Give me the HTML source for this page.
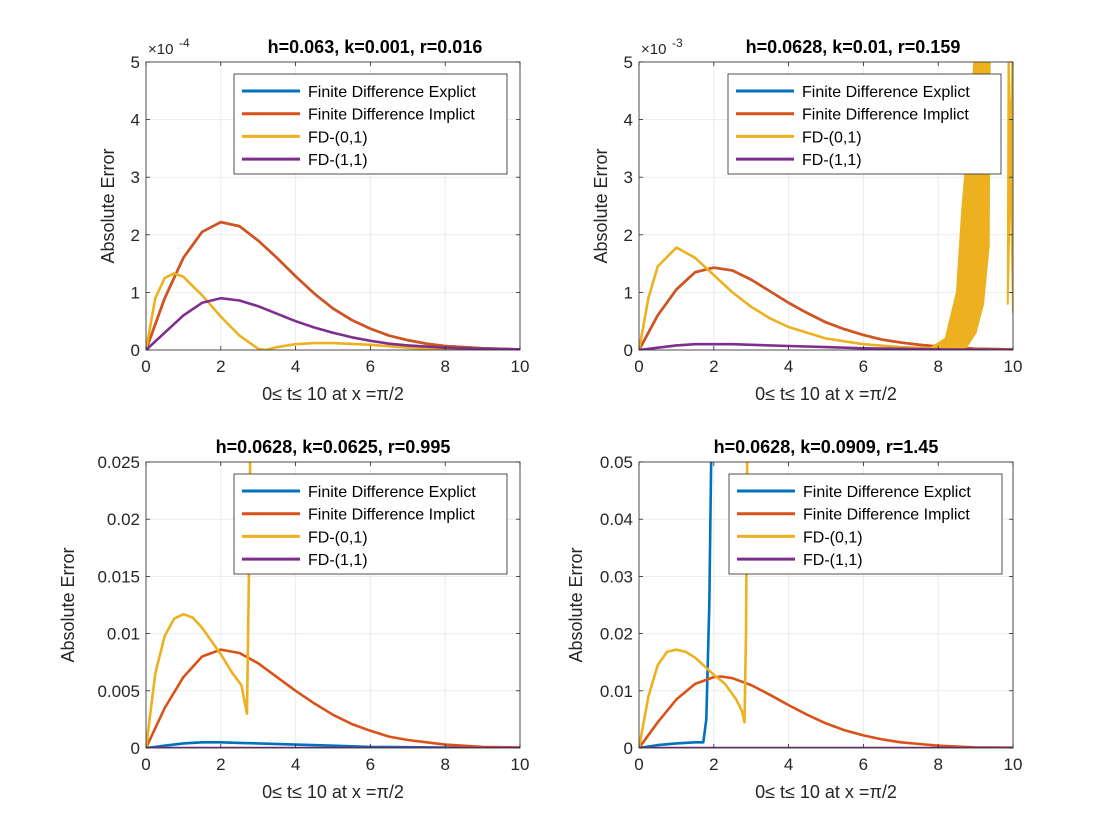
<!DOCTYPE html>
<html><head><meta charset="utf-8"><style>
body{margin:0;background:#fff}
svg{display:block;font-family:"Liberation Sans",Arial,sans-serif}
</style></head><body>
<svg id="fig" width="1120" height="840" viewBox="0 0 1120 840" xmlns="http://www.w3.org/2000/svg"></svg>
<script>
// ---------- data ----------
const xTicks=[0,2,4,6,8,10];
// Panel 1 (units 1e-4)
const p1T=[0,0.5,1,1.5,2,2.5,3,3.5,4,4.5,5,5.5,6,6.5,7,7.5,8,9,10];
const p1Impl=[0,0.9,1.6,2.05,2.22,2.15,1.9,1.6,1.28,0.98,0.72,0.52,0.37,0.25,0.17,0.11,0.07,0.03,0.01];
const p1Expl=[0,0.9,1.6,2.05,2.22,2.15,1.9,1.6,1.28,0.98,0.72,0.52,0.37,0.25,0.17,0.11,0.07,0.03,0.01];
const p1T11=[0,0.5,1,1.5,2,2.5,3,3.5,4,4.5,5,5.5,6,6.5,7,8,9,10];
const p1FD11=[0,0.3,0.6,0.82,0.9,0.86,0.76,0.63,0.5,0.39,0.3,0.22,0.16,0.11,0.08,0.04,0.02,0.01];
const p1T01=[0,0.25,0.5,0.75,1,1.5,2,2.5,3,3.2,3.5,4,4.5,5,6,7,8,10];
const p1FD01=[0,0.9,1.25,1.33,1.27,0.95,0.58,0.25,0.02,0,0.05,0.1,0.12,0.12,0.09,0.04,0.01,0];
const p1YTicks=[0,1,2,3,4,5];
// Panel 2 (units 1e-3)
const p2T=[0,0.5,1,1.5,2,2.5,3,3.5,4,4.5,5,5.5,6,6.5,7,7.5,8,9,10];
const p2Impl=[0,0.6,1.05,1.35,1.43,1.38,1.22,1.02,0.82,0.64,0.48,0.36,0.26,0.18,0.13,0.09,0.06,0.02,0.01];
const p2Expl=[0,0.6,1.05,1.35,1.43,1.38,1.22,1.02,0.82,0.64,0.48,0.36,0.26,0.18,0.13,0.09,0.06,0.02,0.01];
const p2T01=[0,0.25,0.5,1,1.5,2,2.5,3,3.5,4,5,6,7,7.8];
const p2FD01=[0,0.9,1.45,1.78,1.6,1.3,1.0,0.75,0.55,0.4,0.2,0.1,0.05,0.03];
const p2BandHiT=[7.8,8.2,8.5,8.65,8.85,9.0];
const p2BandHi=[0.03,0.2,1.0,2.5,4,5.3];
const p2BandLoT=[7.9,8.75,9.0,9.2,9.35,9.38];
const p2BandLo=[0.02,0.05,0.3,0.8,1.8,5.3];
const p2Tail2HiT=[9.86,9.88];
const p2Tail2Hi=[0.8,5.3];
const p2Tail2LoT=[9.99,10];
const p2Tail2Lo=[5.3,0.65];
const p2T11=[0,0.5,1,1.5,2,2.5,3,4,5,6,7,8,10];
const p2FD11=[0,0.04,0.08,0.1,0.1,0.1,0.09,0.07,0.05,0.03,0.02,0.01,0];
const p2YTicks=[0,1,2,3,4,5];
// Panel 3
const p3T=[0,0.5,1,1.5,2,2.5,3,3.5,4,4.5,5,5.5,6,6.5,7,7.5,8,9,10];
const p3Impl=[0,0.0035,0.0062,0.0080,0.0086,0.0083,0.0074,0.0062,0.0050,0.0039,0.0029,0.0021,0.0015,0.0010,0.0007,0.0005,0.0003,0.0001,0.00005];
const p3T01=[0,0.25,0.5,0.75,1,1.25,1.5,2,2.3,2.55,2.7,2.75,2.8];
const p3FD01=[0,0.0065,0.0098,0.0113,0.0117,0.0114,0.0105,0.0082,0.0066,0.0055,0.003,0.015,0.03];
const p3TExpl=[0,0.5,1,1.5,2,2.5,3,4,5,6,7,8,10];
const p3Expl=[0,0.0002,0.0004,0.0005,0.0005,0.00045,0.0004,0.0003,0.0002,0.0001,0.00007,0.00004,0.00001];
const p3T11=[0,10];
const p3FD11=[0,0];
const p3YTicks=[0,0.005,0.01,0.015,0.02,0.025];
const p3YLabels=["0","0.005","0.01","0.015","0.02","0.025"];
// Panel 4
const p4T=[0,0.5,1,1.5,2,2.2,2.5,3,3.5,4,4.5,5,5.5,6,6.5,7,7.5,8,9,10];
const p4Impl=[0,0.0045,0.0085,0.0112,0.0124,0.0125,0.0122,0.0110,0.0093,0.0075,0.0058,0.0043,0.0031,0.0022,0.0015,0.0010,0.0007,0.0004,0.0001,0.00005];
const p4T01=[0,0.25,0.5,0.75,1,1.25,1.5,2,2.3,2.6,2.75,2.82,2.86,2.9];
const p4FD01=[0,0.009,0.0145,0.0168,0.0172,0.0168,0.0158,0.0128,0.0112,0.0085,0.0065,0.0045,0.02,0.06];
const p4TExpl=[0,0.5,1,1.5,1.72,1.8,1.88,1.95];
const p4Expl=[0,0.0005,0.0008,0.001,0.001,0.005,0.025,0.06];
const p4T11=[0,10];
const p4FD11=[0,0];
const p4YTicks=[0,0.01,0.02,0.03,0.04,0.05];
const p4YLabels=["0","0.01","0.02","0.03","0.04","0.05"];

// ---------- drawing ----------
const NS="http://www.w3.org/2000/svg";
const svg=document.getElementById('fig');
const C={blue:"#0072BD",orange:"#D95319",yellow:"#EDB120",purple:"#7E2F8E"};
function mk(tag,attrs,parent){const e=document.createElementNS(NS,tag);for(const k in attrs)e.setAttribute(k,attrs[k]);(parent||svg).appendChild(e);return e;}
let clipN=0;
function panel(o){
  const g=mk('g',{});
  
  
  const L=o.x0,R=o.x1,T=o.y0,B=o.y1;
  const sx=t=>L+(t-0)/10*(R-L);
  const sy=v=>B-(v/o.ymax)*(B-T);
  mk('rect',{x:L,y:T,width:R-L,height:B-T,fill:'#fff'},g);
  xTicks.forEach(t=>{const l=mk('line',{x1:sx(t),x2:sx(t),y1:T,y2:B,stroke:'#ebebeb','stroke-width':1},g);
    });
  o.yTicks.forEach(v=>{const l=mk('line',{x1:L,x2:R,y1:sy(v),y2:sy(v),stroke:'#ebebeb','stroke-width':1},g);
    });
  const cid='clip'+(clipN++);
  const cp=mk('clipPath',{id:cid},g);mk('rect',{x:L,y:T,width:R-L,height:B-T},cp);
  const dg=mk('g',{'clip-path':'url(#'+cid+')'},g);
  
  o.series.forEach(s=>{
    if(s.band){
      const pts=s.hiT.map((t,i)=>sx(t)+','+sy(s.hi[i]));
      for(let i=s.loT.length-1;i>=0;i--)pts.push(sx(s.loT[i])+','+sy(s.lo[i]));
      const p=mk('polygon',{points:pts.join(' '),fill:C.yellow,stroke:C.yellow,'stroke-width':2,'stroke-linejoin':'round'},dg);
      
      return;
    }
    const d=s.t.map((t,i)=>(i?'L':'M')+sx(t).toFixed(1)+','+sy(s.v[i]).toFixed(1)).join(' ');
    const p=mk('path',{d:d,fill:'none',stroke:C[s.c],'stroke-width':2.6,'stroke-linejoin':'round'},dg);
    
  });
  mk('rect',{x:L,y:T,width:R-L,height:B-T,fill:'none',stroke:'#262626','stroke-width':0.8},g);
  xTicks.forEach(t=>{
    mk('line',{x1:sx(t),x2:sx(t),y1:B,y2:B-4,stroke:'#262626','stroke-width':0.8},g);
    mk('line',{x1:sx(t),x2:sx(t),y1:T,y2:T+4,stroke:'#262626','stroke-width':0.8},g);
    const tx=mk('text',{x:sx(t),y:B+22,'font-size':17,'text-anchor':'middle',fill:'#262626'},g);
    tx.textContent=String(t);
    
  });
  o.yTicks.forEach((v,i)=>{
    mk('line',{x1:L,x2:L+4,y1:sy(v),y2:sy(v),stroke:'#262626','stroke-width':0.8},g);
    mk('line',{x1:R,x2:R-4,y1:sy(v),y2:sy(v),stroke:'#262626','stroke-width':0.8},g);
    const tx=mk('text',{x:L-6,y:sy(v)+6,'font-size':17,'text-anchor':'end',fill:'#262626'},g);
    tx.textContent=o.yLabels?o.yLabels[i]:String(v);
    
  });
  const xl=mk('text',{x:(L+R)/2,y:B+50,'font-size':18,'text-anchor':'middle',fill:'#262626'},g);
  xl.textContent='0\u2264 t\u2264 10 at x =\u03c0/2';
  
  const yl=mk('text',{x:0,y:0,'font-size':18,'text-anchor':'middle',fill:'#262626',transform:'translate('+o.ylx+','+((T+B)/2)+') rotate(-90)'},g);
  yl.textContent='Absolute Error';
  
  const ti=mk('text',{x:(L+R)/2+o.titleDx,y:T-9,'font-size':18,'font-weight':'bold','text-anchor':'middle',fill:'#000'},g);
  ti.textContent=o.title;
  
  if(o.exp){
    const ex=mk('text',{x:L+2,y:T-8,'font-size':15,fill:'#262626'},g);
    ex.textContent='\u00d710';
    
    const es=mk('text',{x:L+33,y:T-15,'font-size':12,fill:'#262626'},g);
    es.textContent=o.exp;
  }
  const lx=o.legX,ly=T+12,lw=273,lh=100;
  const lg=mk('g',{},g);
  
  mk('rect',{x:lx,y:ly,width:lw,height:lh,fill:'#fff',stroke:'#262626','stroke-width':0.8},lg);
  const names=['Finite Difference Explict','Finite Difference Implict','FD-(0,1)','FD-(1,1)'];
  const cols=['blue','orange','yellow','purple'];
  names.forEach((n,i)=>{
    const yy=ly+17+i*22.7;
    const ln=mk('line',{x1:lx+8,x2:lx+66,y1:yy,y2:yy,stroke:C[cols[i]],'stroke-width':3},lg);
    
    const tx=mk('text',{x:lx+74,y:yy+6,'font-size':16,fill:'#000'},lg);
    tx.textContent=n;
    
  });
}
panel({name:'panel-top-left',x0:146,x1:520,y0:62,y1:350,ymax:5,yTicks:p1YTicks,ylx:114,title:'h=0.063, k=0.001, r=0.016',titleDx:42,exp:'-4',legX:234,
  series:[{t:p1T,v:p1Expl,c:'blue',name:'line-explicit'},{t:p1T,v:p1Impl,c:'orange',name:'line-implicit'},
    {t:p1T01,v:p1FD01,c:'yellow',name:'line-fd01'},{t:p1T11,v:p1FD11,c:'purple',name:'line-fd11'}]});
panel({name:'panel-top-right',x0:639,x1:1013,y0:62,y1:350,ymax:5,yTicks:p2YTicks,ylx:607,title:'h=0.0628, k=0.01, r=0.159',titleDx:27,exp:'-3',legX:728,
  series:[{t:p2T,v:p2Expl,c:'blue',name:'line-explicit'},{t:p2T,v:p2Impl,c:'orange',name:'line-implicit'},
    {t:p2T01,v:p2FD01,c:'yellow',name:'line-fd01'},
    {band:true,hiT:p2BandHiT,hi:p2BandHi,loT:p2BandLoT,lo:p2BandLo,name:'fd01-oscillation-band'},
    {band:true,hiT:p2Tail2HiT,hi:p2Tail2Hi,loT:p2Tail2LoT,lo:p2Tail2Lo,name:'fd01-oscillation-tail'},
    {t:p2T11,v:p2FD11,c:'purple',name:'line-fd11'}]});
panel({name:'panel-bottom-left',x0:146,x1:520,y0:462,y1:748,ymax:0.025,yTicks:p3YTicks,yLabels:p3YLabels,ylx:74,title:'h=0.0628, k=0.0625, r=0.995',titleDx:0,legX:234,
  series:[{t:p3TExpl,v:p3Expl,c:'blue',name:'line-explicit'},{t:p3T,v:p3Impl,c:'orange',name:'line-implicit'},
    {t:p3T01,v:p3FD01,c:'yellow',name:'line-fd01'},{t:p3T11,v:p3FD11,c:'purple',name:'line-fd11'}]});
panel({name:'panel-bottom-right',x0:639,x1:1013,y0:462,y1:748,ymax:0.05,yTicks:p4YTicks,yLabels:p4YLabels,ylx:582,title:'h=0.0628, k=0.0909, r=1.45',titleDx:0,legX:729,
  series:[{t:p4TExpl,v:p4Expl,c:'blue',name:'line-explicit'},{t:p4T,v:p4Impl,c:'orange',name:'line-implicit'},
    {t:p4T01,v:p4FD01,c:'yellow',name:'line-fd01'},{t:p4T11,v:p4FD11,c:'purple',name:'line-fd11'}]});
</script>
</body></html>
